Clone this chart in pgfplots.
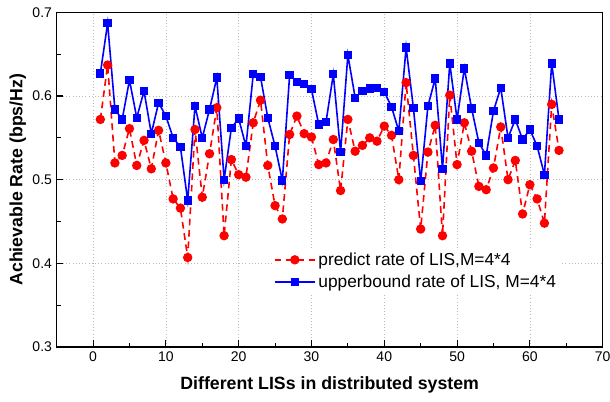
\documentclass[border=0pt]{standalone}
\usepackage{fontspec}
\setmainfont{Liberation Sans}
\usepackage{pgfplots}
\usepackage{pgfplotstable}
\pgfplotsset{compat=1.18}

\pgfplotstableread{
x y
1 0.572
2 0.637
3 0.520
4 0.529
5 0.561
6 0.517
7 0.547
8 0.513
9 0.559
10 0.520
11 0.477
12 0.466
13 0.407
14 0.560
15 0.479
16 0.531
17 0.586
18 0.433
19 0.524
20 0.506
21 0.503
22 0.568
23 0.595
24 0.517
25 0.469
26 0.453
27 0.554
28 0.576
29 0.555
30 0.551
31 0.518
32 0.520
33 0.548
34 0.487
35 0.572
36 0.534
37 0.541
38 0.550
39 0.546
40 0.564
41 0.553
42 0.500
43 0.616
44 0.529
45 0.441
46 0.533
47 0.565
48 0.433
49 0.601
50 0.518
51 0.568
52 0.534
53 0.492
54 0.488
55 0.514
56 0.563
57 0.500
58 0.523
59 0.459
60 0.494
61 0.477
62 0.448
63 0.590
64 0.535
}\predict

\pgfplotstableread{
x y
1 0.627
2 0.687
3 0.584
4 0.572
5 0.619
6 0.574
7 0.606
8 0.555
9 0.592
10 0.576
11 0.550
12 0.539
13 0.475
14 0.588
15 0.550
16 0.584
17 0.622
18 0.500
19 0.562
20 0.573
21 0.540
22 0.626
23 0.623
24 0.574
25 0.540
26 0.499
27 0.625
28 0.617
29 0.614
30 0.608
31 0.566
32 0.569
33 0.626
34 0.533
35 0.649
36 0.598
37 0.606
38 0.609
39 0.610
40 0.605
41 0.587
42 0.558
43 0.658
44 0.586
45 0.498
46 0.588
47 0.621
48 0.513
49 0.639
50 0.572
51 0.633
52 0.585
53 0.544
54 0.529
55 0.582
56 0.610
57 0.550
58 0.572
59 0.548
60 0.560
61 0.540
62 0.506
63 0.639
64 0.572
}\upper

\begin{document}
\begin{tikzpicture}
% fix the page to the reference proportions
\useasboundingbox (-42.5pt,-40.5pt) rectangle (415pt,260.25pt);
\begin{axis}[
    scale only axis,
    width=409.5pt,
    height=251pt,
    xmin=-5, xmax=70,
    ymin=0.3, ymax=0.7,
    xtick={0,10,...,70},
    ytick={0.3,0.4,...,0.7},
    minor x tick num=1,
    minor y tick num=1,
    xtick pos=left, ytick pos=left,
    tick align=inside,
    major tick length=5pt,
    minor tick length=3pt,
    every tick/.style={black, line width=0.8pt},
    axis line style={black, line width=1.1pt},
    grid=major,
    grid style={dotted, gray!55, line width=0.5pt},
    /pgf/number format/assume math mode=true,
    yticklabel style={/pgf/number format/fixed, /pgf/number format/precision=1, /pgf/number format/fixed zerofill},
    tick label style={font=\fontsize{10.5}{12}\selectfont},
    xlabel={Different LISs in distributed system},
    ylabel={Achievable Rate (bps/Hz)},
    label style={font=\fontsize{13.3}{16}\selectfont\bfseries},
    xlabel style={at={(axis description cs:0.5,-0.113)}, anchor=center},
    ylabel style={at={(axis description cs:-0.0714,0.5)}, anchor=center},
    legend cell align=left,
    legend style={at={(axis description cs:0.395,0.295)}, anchor=north west,
        draw=none, fill=white, font=\fontsize{13}{15.6}\selectfont,
        row sep=1.5pt, inner sep=1pt},
    legend image code/.code={\draw[mark repeat=2,mark phase=2]
        plot coordinates {(0cm,0cm) (0.53cm,0cm) (1.06cm,0cm)};},
]
\addplot[red, line width=1.2pt, dash pattern=on 5pt off 3.5pt,
    mark=*, mark size=2.9pt, mark options={solid, fill=red}]
    table[x=x, y=y] {\predict};
\addlegendentry{predict rate of LIS,M=4*4}
\addplot[blue, line width=1.2pt,
    mark=square*, mark size=2.5pt, mark options={solid, fill=blue}]
    table[x=x, y=y] {\upper};
\addlegendentry{upperbound rate of LIS, M=4*4}
\end{axis}
\end{tikzpicture}
\end{document}
